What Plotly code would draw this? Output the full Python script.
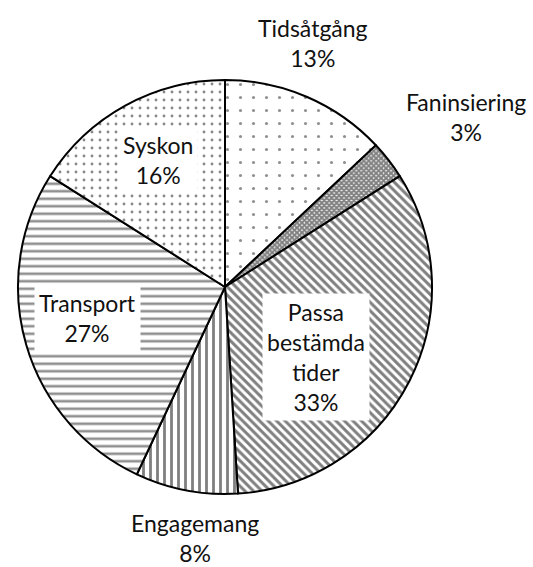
import plotly.graph_objects as go

labels = ["Tidsåtgång", "Faninsiering", "Passa bestämda tider", "Engagemang", "Transport", "Syskon"]
values = [13, 3, 33, 8, 27, 16]
label_text = ["Tidsåtgång", "Faninsiering", "Passa<br>bestämda<br>tider", "Engagemang", "Transport", "Syskon"]

# styling (not data)
shapes = [".", "x", "\\", "|", "-", "."]
sizes = [13, 3.5, 6, 7, 7.5, 8]
solid = [0.045, 0.8, 0.5, 0.4, 0.35, 0.1]
fgcols = ["#222222", "#000000", "#000000", "#000000", "#222222", "#111111"]
# label block centres in pixels (x, y from top) and whether it sits on a white box
label_pos = [(313, 43, False), (466, 117, False), (316, 357, True),
             (195, 538, False), (87, 318, True), (158, 160, True)]

W, H = 533, 567
cx, cy, r = 225, 287, 207

fig = go.Figure(go.Pie(
    labels=labels, values=values, sort=False, direction="clockwise", rotation=0,
    textinfo="none", hoverinfo="label+percent", showlegend=False,
    domain=dict(x=[(cx - r) / W, (cx + r) / W], y=[1 - (cy + r) / H, 1 - (cy - r) / H]),
    marker=dict(
        colors=["white"] * 6,
        line=dict(color="black", width=2),
        pattern=dict(shape=shapes, size=sizes, solidity=solid,
                     fgcolor=fgcols, bgcolor=["white"] * 6, fillmode="overlay"),
    ),
))

total = sum(values)
for lt, v, (px, py, boxed) in zip(label_text, values, label_pos):
    pct = round(100 * v / total)
    fig.add_annotation(
        x=px / W, y=1 - py / H, xref="paper", yref="paper",
        text=f"{lt}<br>{pct}%", showarrow=False, align="center",
        font=dict(family="Lato", size=23, color="#111111"),
        bgcolor="white" if boxed else "rgba(0,0,0,0)", borderpad=4,
        xanchor="center", yanchor="middle",
    )

fig.update_layout(
    width=W, height=H, margin=dict(l=0, r=0, t=0, b=0),
    paper_bgcolor="white", plot_bgcolor="white",
)
fig.write_html("out.html", config={"displayModeBar": False},
               post_script="document.body.style.margin='0';document.body.style.padding='0';")
